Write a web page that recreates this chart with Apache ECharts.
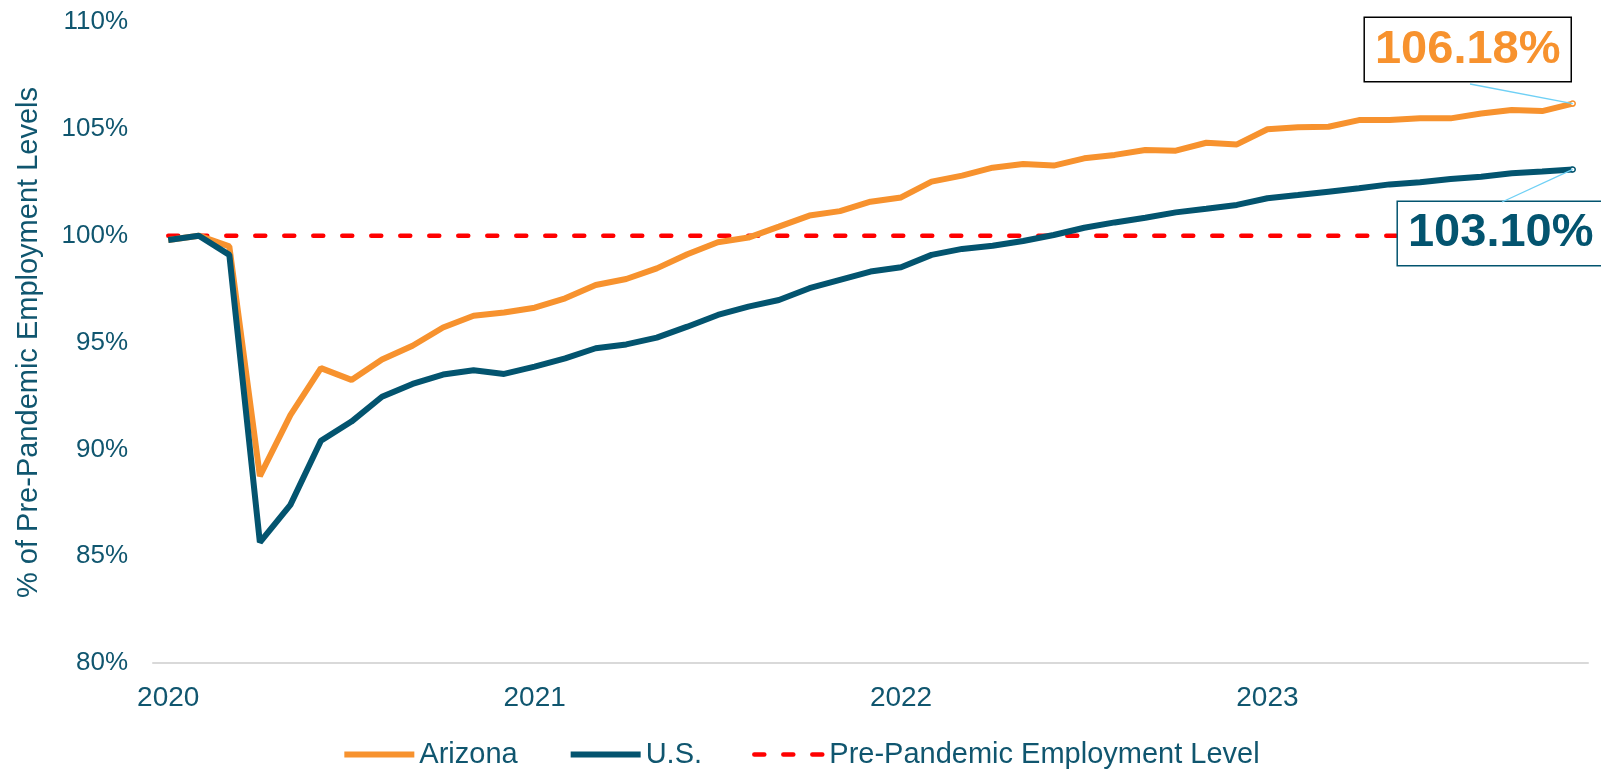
<!DOCTYPE html>
<html>
<head>
<meta charset="utf-8">
<script src="https://cdn.jsdelivr.net/npm/echarts@6/dist/echarts.min.js"></script>
<style>
html, body { margin: 0; padding: 0; background: #fff; }
#chart { width: 1601px; height: 771px; }
</style>
</head>
<body>
<div id="chart"></div>
<script>
var months = [
	'2020-01','2020-02','2020-03','2020-04','2020-05','2020-06','2020-07','2020-08','2020-09','2020-10','2020-11','2020-12',
	'2021-01','2021-02','2021-03','2021-04','2021-05','2021-06','2021-07','2021-08','2021-09','2021-10','2021-11','2021-12',
	'2022-01','2022-02','2022-03','2022-04','2022-05','2022-06','2022-07','2022-08','2022-09','2022-10','2022-11','2022-12',
	'2023-01','2023-02','2023-03','2023-04','2023-05','2023-06','2023-07','2023-08','2023-09','2023-10','2023-11'
];

var arizona = [
	99.8, 100.0, 99.5, 88.75, 91.6, 93.8, 93.25, 94.2, 94.85, 95.7, 96.25, 96.4,
	96.63, 97.07, 97.69, 97.97, 98.47, 99.13, 99.69, 99.91, 100.42, 100.94, 101.15, 101.59,
	101.79, 102.53, 102.81, 103.18, 103.35, 103.28, 103.62, 103.78, 104.01, 103.98, 104.35, 104.27,
	104.98, 105.07, 105.10, 105.41, 105.41, 105.49, 105.49, 105.72, 105.88, 105.83, 106.18
];

var us = [
	99.8, 100.0, 99.1, 85.65, 87.4, 90.4, 91.3, 92.46, 93.06, 93.5, 93.7, 93.53,
	93.87, 94.26, 94.73, 94.91, 95.23, 95.74, 96.29, 96.68, 96.99, 97.54, 97.93, 98.32,
	98.52, 99.1, 99.38, 99.53, 99.75, 100.03, 100.37, 100.62, 100.84, 101.09, 101.26, 101.44,
	101.75, 101.9, 102.06, 102.22, 102.4, 102.5, 102.65, 102.76, 102.92, 103.0, 103.10
];

var prePandemic = [
	100, 100, 100, 100, 100, 100, 100, 100, 100, 100, 100, 100,
	100, 100, 100, 100, 100, 100, 100, 100, 100, 100, 100, 100,
	100, 100, 100, 100, 100, 100, 100, 100, 100, 100, 100, 100,
	100, 100, 100, 100, 100, 100, 100, 100, 100, 100, 100
];

var textColor = '#10566f';
var azColor = '#f7922e';
var usColor = '#03546f';
var leaderColor = '#6fd0f5';
var font = 'Liberation Sans, Arial, sans-serif';

// last point gets a boxed label, moved away from the line
function withEndLabel(values, color, borderColor) {
	var out = [];
	for (var i = 0; i < values.length; i++) {
		if (i < values.length - 1) {
			out.push(values[i]);
		} else {
			out.push({
				value: values[i],
				symbol: 'circle',
				symbolSize: 5,
				itemStyle: { color: '#fff', borderColor: color, borderWidth: 1.5 },
				label: {
					show: true,
					formatter: function (p) { return p.value.toFixed(2) + '%'; },
					color: color,
					fontFamily: font,
					fontWeight: 'bold',
					fontSize: 47,
					lineHeight: 49,
					backgroundColor: '#fff',
					borderColor: borderColor,
					borderWidth: 1.5,
					padding: [7, 10, 7, 10]
				}
			});
		}
	}
	return out;
}

function moveLabel(dx, dy) {
	return function (params) {
		return {
			x: params.rect.x + params.rect.width / 2 + dx,
			y: params.rect.y + params.rect.height / 2 + dy,
			align: 'center',
			verticalAlign: 'middle'
		};
	};
}

// thin guide line from the last point to the label box
function leader(values, boxX, boxY) {
	var last = values.length - 1;
	return {
		silent: true,
		symbol: 'none',
		label: { show: false },
		lineStyle: { color: leaderColor, width: 1.3, type: 'solid' },
		data: [[{ coord: [last, values[last]] }, { x: boxX, y: boxY }]]
	};
}

var myChart = echarts.init(document.getElementById('chart'));
var option = {
	backgroundColor: '#fff',
	animation: false,
	grid: { left: 153, right: 13, top: 22, bottom: 108 },
	legend: {
		bottom: -3,
		left: 'center',
		itemWidth: 70,
		itemHeight: 14,
		itemGap: 50,
		itemStyle: { opacity: 0 },
		textStyle: { color: textColor, fontSize: 29, fontFamily: font },
		data: [
			{ name: 'Arizona', lineStyle: { width: 6 } },
			{ name: 'U.S.', lineStyle: { width: 6 } },
			{ name: 'Pre-Pandemic Employment Level', lineStyle: { width: 4.5 } }
		]
	},
	xAxis: {
		type: 'category',
		data: months,
		boundaryGap: true,
		axisLine: { lineStyle: { color: '#d9d9d9', width: 2 } },
		axisTick: { show: false },
		axisLabel: {
			interval: function (index) { return index % 12 === 0; },
			formatter: function (v) { return v.slice(0, 4); },
			color: textColor,
			fontSize: 28,
			margin: 21,
			fontFamily: font
		},
		splitLine: { show: false }
	},
	yAxis: {
		type: 'value',
		min: 80,
		max: 110,
		interval: 5,
		name: '% of Pre-Pandemic Employment Levels',
		nameLocation: 'middle',
		nameGap: 110,
		nameTextStyle: { color: textColor, fontSize: 29, fontFamily: font },
		axisLine: { show: false },
		axisTick: { show: false },
		splitLine: { show: false },
		axisLabel: {
			formatter: '{value}%',
			color: textColor,
			fontSize: 26,
			margin: 25,
			fontFamily: font
		}
	},
	series: [
		{
			name: 'Arizona',
			type: 'line',
			data: withEndLabel(arizona, azColor, '#000'),
			symbol: 'none',
			lineStyle: { color: azColor, width: 6 },
			itemStyle: { color: azColor },
			labelLayout: moveLabel(-105, -54),
			markLine: leader(arizona, 1470, 84),
			z: 3
		},
		{
			name: 'U.S.',
			type: 'line',
			data: withEndLabel(us, usColor, usColor),
			symbol: 'none',
			lineStyle: { color: usColor, width: 6 },
			itemStyle: { color: usColor },
			labelLayout: moveLabel(-72, 64),
			markLine: leader(us, 1502, 202),
			z: 4
		},
		{
			name: 'Pre-Pandemic Employment Level',
			type: 'line',
			data: prePandemic,
			symbol: 'none',
			lineStyle: { color: '#ff0000', width: 4.5, type: [10, 19], cap: 'round' },
			itemStyle: { color: '#ff0000' },
			z: 2
		}
	]
};
myChart.setOption(option);
</script>
</body>
</html>
